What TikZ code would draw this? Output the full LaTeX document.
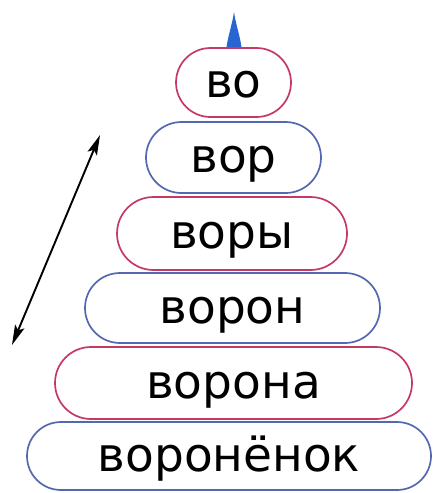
\documentclass[tikz,border=0pt]{standalone}
\usepackage{fontspec}
\setmainfont{DejaVu Sans}
\usetikzlibrary{arrows.meta,shapes.misc}
\definecolor{pillred}{RGB}{196,58,98}
\definecolor{pillblue}{RGB}{84,104,178}
\definecolor{tipblue}{RGB}{40,100,210}
\begin{document}
\begin{tikzpicture}[x=1pt,y=-1pt,line join=round,line cap=round,
	>={Stealth[length=20pt,width=10pt,inset=4pt]},
	pill/.style={rounded rectangle,draw,fill=white,line width=1.7pt,inner sep=0pt,
		text height=30pt,text depth=0pt,font=\fontsize{47}{50}\selectfont}]
	\useasboundingbox (0,0) rectangle (432,493);
	\path 
	(12,345)coordinate(lo) 
	(100,135)coordinate(hi) 
	;
	\fill[tipblue] (234,12) .. controls (236,26) and (241,38) .. (242,52) -- (226,52) .. controls (227,38) and (232,26) .. (234,12) -- cycle;
	\foreach \n/\t/\c/\x/\y/\w/\h in {
		vo/во/pillred/233.5/82.5/115/69,
		vor/вор/pillblue/233.5/157.5/175/71,
		vory/воры/pillred/232/233.5/230/73,
		voron/ворон/pillblue/232.5/308/295/70,
		vorona/ворона/pillred/233.5/383/357/72,
		voronenok/воронёнок/pillblue/229/456/404/68}
	\node[pill,draw=\c,minimum width=\w pt,minimum height=\h pt] (\n) at (\x,\y) {\t};
	\draw[<->,line width=1.9pt] (lo)--(hi);
\end{tikzpicture}
\end{document}
